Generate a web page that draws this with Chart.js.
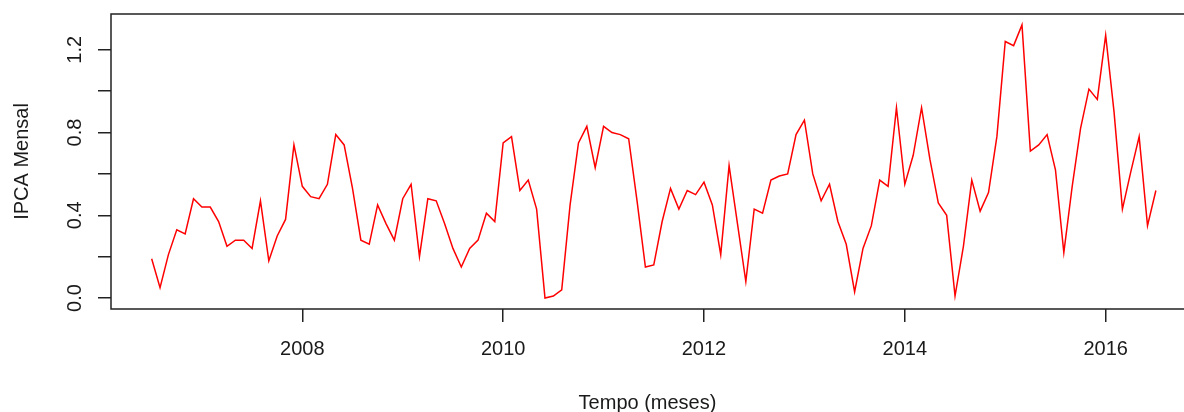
<!DOCTYPE html>
<html>
<head>
<meta charset="utf-8">
<script src="https://cdn.jsdelivr.net/npm/chart.js@4/dist/chart.umd.min.js"></script>
<style>
    html, body { margin: 0; padding: 0; background: #fff; }
    #wrap { width: 1184px; height: 412px; }
</style>
</head>
<body>
<div id="wrap"><canvas id="ipcaChart" width="1184" height="412"></canvas></div>
<script>
// IPCA monthly values, Jul 2006 .. Jul 2016
const startYear = 2006;
const startMonth = 7;
const ipca2006 = [0.19, 0.05, 0.21, 0.33, 0.31, 0.48];
const ipca2007 = [0.44, 0.44, 0.37, 0.25, 0.28, 0.28, 0.24, 0.47, 0.18, 0.30, 0.38, 0.74];
const ipca2008 = [0.54, 0.49, 0.48, 0.55, 0.79, 0.74, 0.53, 0.28, 0.26, 0.45, 0.36, 0.28];
const ipca2009 = [0.48, 0.55, 0.20, 0.48, 0.47, 0.36, 0.24, 0.15, 0.24, 0.28, 0.41, 0.37];
const ipca2010 = [0.75, 0.78, 0.52, 0.57, 0.43, 0.00, 0.01, 0.04, 0.45, 0.75, 0.83, 0.63];
const ipca2011 = [0.83, 0.80, 0.79, 0.77, 0.47, 0.15, 0.16, 0.37, 0.53, 0.43, 0.52, 0.50];
const ipca2012 = [0.56, 0.45, 0.21, 0.64, 0.36, 0.08, 0.43, 0.41, 0.57, 0.59, 0.60, 0.79];
const ipca2013 = [0.86, 0.60, 0.47, 0.55, 0.37, 0.26, 0.03, 0.24, 0.35, 0.57, 0.54, 0.92];
const ipca2014 = [0.55, 0.69, 0.92, 0.67, 0.46, 0.40, 0.01, 0.25, 0.57, 0.42, 0.51, 0.78];
const ipca2015 = [1.24, 1.22, 1.32, 0.71, 0.74, 0.79, 0.62, 0.22, 0.54, 0.82, 1.01, 0.96];
const ipca2016 = [1.27, 0.90, 0.43, 0.61, 0.78, 0.35, 0.52];

const xTicks = [2008, 2010, 2012, 2014, 2016];
const yTicks = [0.0, 0.2, 0.4, 0.6, 0.8, 1.0, 1.2];
const yLabelled = [0.0, 0.4, 0.8, 1.2];

const ipca = [].concat(ipca2006, ipca2007, ipca2008, ipca2009, ipca2010,
    ipca2011, ipca2012, ipca2013, ipca2014, ipca2015, ipca2016);

// time in decimal years, like an R ts object
const points = ipca.map((v, i) => ({
    x: startYear + (startMonth - 1 + i) / 12,
    y: v
}));

// R style box around the plot region (right side falls outside the picture)
const boxPlugin = {
    id: 'rbox',
    afterDraw(chart) {
        const { ctx, chartArea } = chart;
        const { left, top, right, bottom } = chartArea;
        ctx.save();
        ctx.strokeStyle = '#222';
        ctx.lineWidth = 1.5;
        ctx.beginPath();
        ctx.moveTo(right + 2, top);
        ctx.lineTo(left, top);
        ctx.lineTo(left, bottom);
        ctx.lineTo(right + 2, bottom);
        ctx.stroke();
        ctx.restore();
    }
};

const axisFont = { family: 'Liberation Sans, Arial, sans-serif', size: 20 };

const chart = new Chart(document.getElementById('ipcaChart').getContext('2d'), {
    type: 'line',
    data: {
        datasets: [{
            data: points,
            borderColor: '#ff0000',
            borderWidth: 1.5,
            pointRadius: 0,
            tension: 0,
            fill: false
        }]
    },
    options: {
        responsive: false,
        animation: false,
        events: [],
        layout: { padding: { left: 0, top: 14, right: 0, bottom: 0 } },
        plugins: {
            legend: { display: false },
            tooltip: { enabled: false }
        },
        scales: {
            x: {
                type: 'linear',
                min: 2006.095,
                max: 2016.78,
                afterBuildTicks: (scale) => { scale.ticks = xTicks.map(v => ({ value: v })); },
                afterFit: (scale) => {
                    scale.height = 103;
                    scale.paddingLeft = 0;
                    scale.paddingRight = 0;
                },
                border: { display: false },
                grid: {
                    drawOnChartArea: false,
                    drawTicks: true,
                    tickLength: 13,
                    color: '#222',
                    lineWidth: 1.5
                },
                ticks: {
                    color: '#1a1a1a',
                    font: axisFont,
                    padding: 15,
                    maxRotation: 0,
                    callback: (v) => String(v)
                },
                title: {
                    display: true,
                    text: 'Tempo (meses)',
                    color: '#1a1a1a',
                    font: axisFont,
                    padding: { top: 0, bottom: -3 }
                }
            },
            y: {
                type: 'linear',
                min: -0.0528,
                max: 1.3728,
                afterBuildTicks: (scale) => { scale.ticks = yTicks.map(v => ({ value: v })); },
                afterFit: (scale) => {
                    scale.width = 111;
                    scale.paddingTop = 0;
                    scale.paddingBottom = 0;
                },
                border: { display: false },
                grid: {
                    drawOnChartArea: false,
                    drawTicks: true,
                    tickLength: 13,
                    color: '#222',
                    lineWidth: 1.5
                },
                ticks: {
                    color: '#1a1a1a',
                    font: axisFont,
                    padding: 9,
                    minRotation: 90,
                    maxRotation: 90,
                    crossAlign: 'center',
                    callback: (v) => yLabelled.some(t => Math.abs(t - v) < 1e-6) ? v.toFixed(1) : ''
                },
                title: {
                    display: true,
                    text: 'IPCA Mensal',
                    color: '#1a1a1a',
                    font: axisFont,
                    padding: { top: 10, bottom: 0 }
                }
            }
        }
    },
    plugins: [boxPlugin]
});
</script>
</body>
</html>
